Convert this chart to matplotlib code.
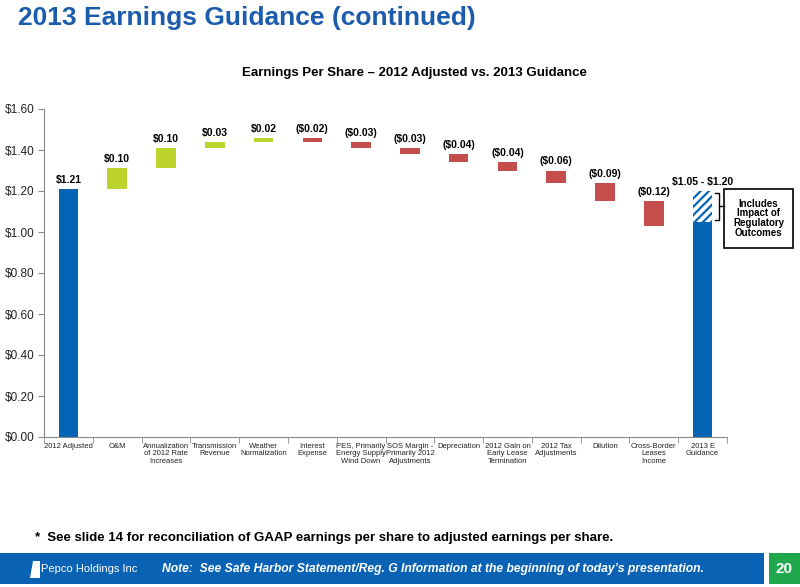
import numpy as np
import matplotlib
matplotlib.use("Agg")
import matplotlib.pyplot as plt
from matplotlib.patches import Rectangle, Polygon

plt.rcParams["font.family"] = ["Liberation Sans", "DejaVu Sans"]
plt.rcParams["hatch.linewidth"] = 1.6

# data
categories = [
    "2012 Adjusted", "O&M", "Annualization\nof 2012 Rate\nIncreases",
    "Transmission\nRevenue", "Weather\nNormalization", "Interest\nExpense",
    "PES, Primarily\nEnergy Supply\nWind Down", "SOS Margin -\nPrimarily 2012\nAdjustments",
    "Depreciation", "2012 Gain on\nEarly Lease\nTermination", "2012 Tax\nAdjustments",
    "Dilution", "Cross-Border\nLeases\nIncome", "2013 E\nGuidance",
]
start_eps = 1.21
deltas = [0.10, 0.10, 0.03, 0.02, -0.02, -0.03, -0.03, -0.04, -0.04, -0.06, -0.09, -0.12]
guidance_low = 1.05
guidance_high = 1.20
yticks = [0.0, 0.2, 0.4, 0.6, 0.8, 1.0, 1.2, 1.4, 1.6]

BLUE = "#0565B4"
GREEN = "#BCD42C"
RED = "#C44E4B"
TITLE_BLUE = "#1C5CAC"

fig = plt.figure(figsize=(8.0, 5.87), dpi=100)
ax = fig.add_axes([44 / 800, 150 / 587, 683 / 800, 328 / 587])

bw = 0.40
lab_kw = dict(ha="center", va="bottom", fontsize=7.5, fontweight="bold",
              textcoords="offset points", xytext=(0, 3))

# starting bar
ax.bar(0, start_eps, width=bw, color=BLUE)
ax.annotate(f"\\${start_eps:.2f}", (0, start_eps), **lab_kw)

# floating bars
level = start_eps
for i, d in enumerate(deltas, start=1):
    new = level + d
    ax.bar(i, abs(d), bottom=min(level, new), width=bw,
           color=GREEN if d > 0 else RED, edgecolor="none")
    txt = f"\\${d:.2f}" if d > 0 else f"(\\${-d:.2f})"
    ax.annotate(txt, (i, max(level, new)), **lab_kw)
    level = new

# guidance bar
gi = len(categories) - 1
ax.bar(gi, guidance_low, width=bw, color=BLUE)
ax.bar(gi, guidance_high - guidance_low, bottom=guidance_low, width=bw,
       color="white", edgecolor=BLUE, hatch="////", linewidth=0)
ax.annotate(f"\\${guidance_low:.2f} - \\${guidance_high:.2f}", (gi, guidance_high), **lab_kw)

# bracket + note box
bx0, bx1, bmid = gi + 0.25, gi + 0.33, gi + 0.43
ax.plot([bx0, bx1, bx1, bx0], [guidance_high - 0.01, guidance_high - 0.01,
                               guidance_low + 0.01, guidance_low + 0.01],
        color="black", lw=1.0, clip_on=False)
ax.plot([bx1, bmid], [(guidance_low + guidance_high) / 2] * 2,
        color="black", lw=1.0, clip_on=False)
ax.add_patch(Rectangle((bmid, 0.922), 1.43, 0.29, facecolor="white",
                       edgecolor="black", lw=1.2, clip_on=False))
ax.text(bmid + 0.715, 1.067, "Includes\nImpact of\nRegulatory\nOutcomes",
        ha="center", va="center", fontsize=7, fontweight="bold", linespacing=0.95)

# axes styling
ax.set_xlim(-0.5, len(categories) - 0.5)
ax.set_ylim(0, 1.6)
ax.set_yticks(yticks)
ax.set_yticklabels([f"${v:.2f}" for v in yticks], fontsize=8.5, color="#222222")
ax.set_xticks(range(len(categories)))
ax.set_xticklabels(categories, fontsize=5.5, color="#222222", linespacing=1.1)
ax.set_xticks(np.arange(-0.5, len(categories), 1.0), minor=True)
ax.tick_params(axis="x", which="major", length=0, pad=4)
ax.tick_params(axis="x", which="minor", length=4, color="#888888", direction="out")
ax.tick_params(axis="y", length=4, color="#888888", direction="out", pad=3)
for s in ("top", "right"):
    ax.spines[s].set_visible(False)
for s in ("left", "bottom"):
    ax.spines[s].set_color("#888888")

# slide texts
fig.text(18 / 800, 1 - 18 / 587, "2013 Earnings Guidance (continued)",
         fontsize=19, fontweight="bold", color=TITLE_BLUE, va="center")
fig.text(414 / 800, 1 - 73 / 587, "Earnings Per Share \u2013 2012 Adjusted vs. 2013 Guidance",
         fontsize=9.5, fontweight="bold", ha="center", va="center")
fig.text(35 / 800, 1 - 538 / 587,
         "*  See slide 14 for reconciliation of GAAP earnings per share to adjusted earnings per share.",
         fontsize=9.5, fontweight="bold", va="center")

# footer bar
fig.patches.append(Rectangle((0, 3 / 587), 764 / 800, 31 / 587, transform=fig.transFigure,
                             facecolor="#0A62B4", edgecolor="none"))
fig.patches.append(Rectangle((769 / 800, 3 / 587), 31 / 800, 31 / 587, transform=fig.transFigure,
                             facecolor="#20A84C", edgecolor="none"))
fig.patches.append(Polygon([(30 / 800, 1 - 578 / 587), (40 / 800, 1 - 578 / 587),
                            (40 / 800, 1 - 561 / 587), (33 / 800, 1 - 561 / 587)],
                           closed=True, transform=fig.transFigure,
                           facecolor="white", edgecolor="none"))
fig.text(41 / 800, 1 - 569 / 587, "Pepco Holdings Inc", fontsize=8, color="white", va="center")
fig.text(162 / 800, 1 - 569 / 587,
         "Note:  See Safe Harbor Statement/Reg. G Information at the beginning of today\u2019s presentation.",
         fontsize=8.7, color="white", fontweight="bold", style="italic", va="center")
fig.text(784.5 / 800, 1 - 569 / 587, "20", fontsize=11, color="white",
         fontweight="bold", ha="center", va="center")

fig.savefig("out.png", dpi=100)
